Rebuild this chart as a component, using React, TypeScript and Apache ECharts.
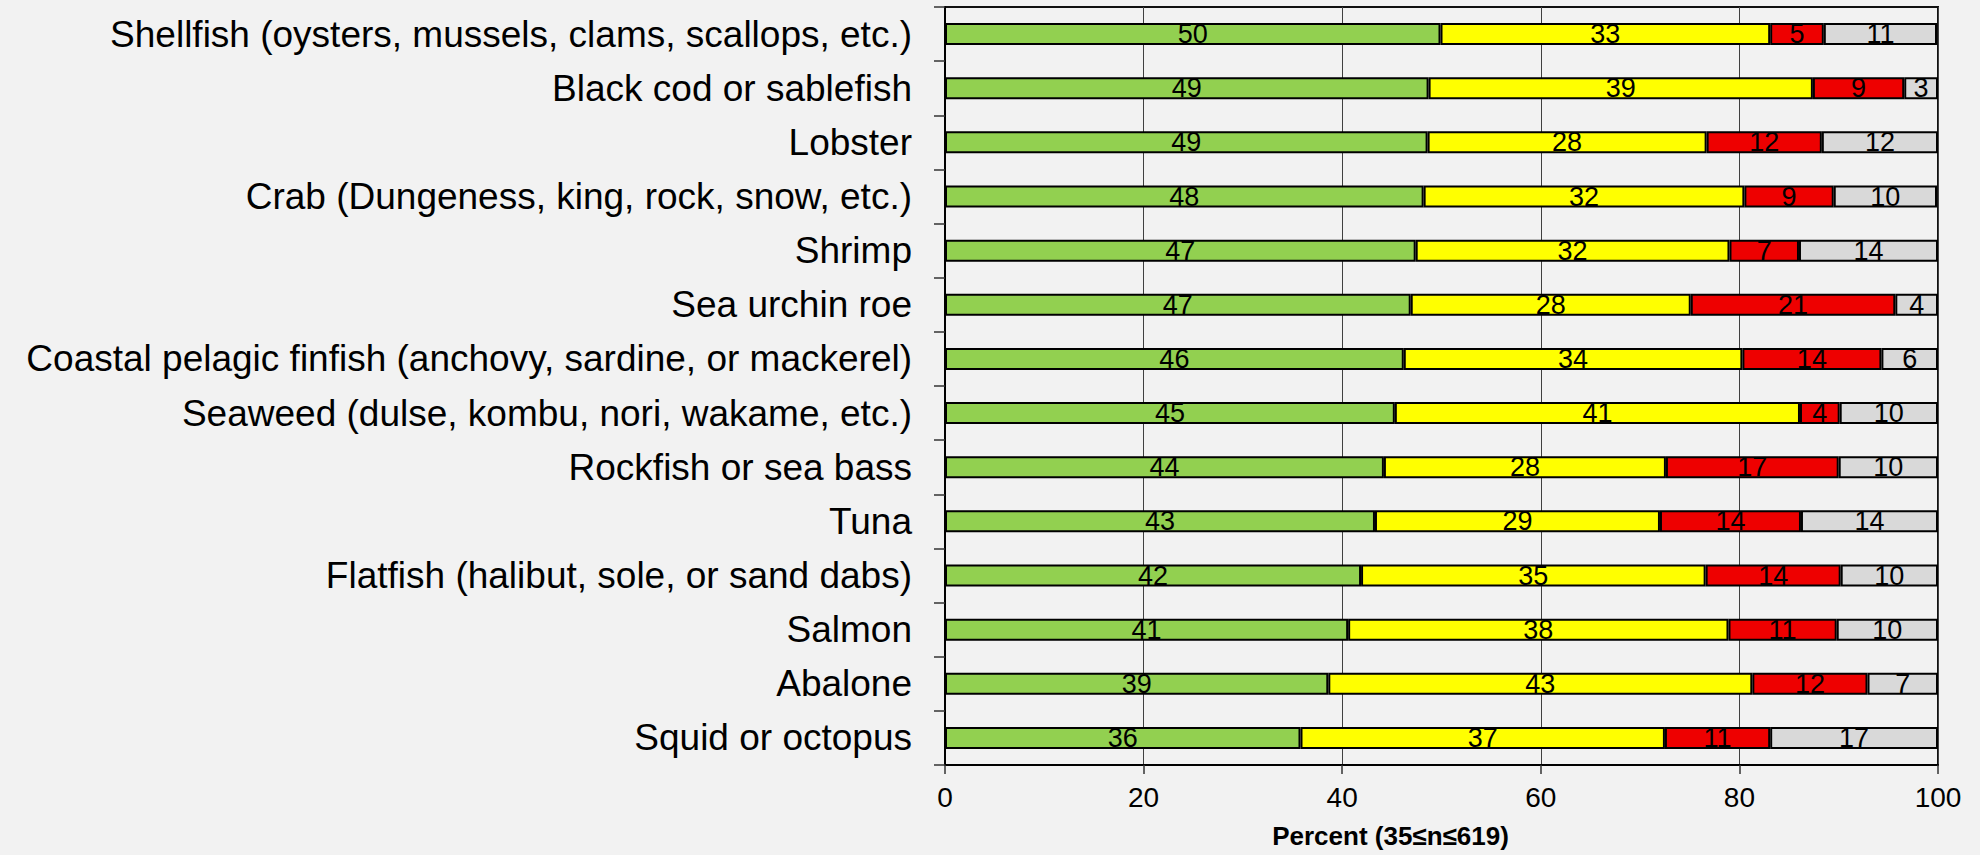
import React, { useEffect, useRef } from "react";
import * as echarts from "echarts";

const categories = [
  "Shellfish (oysters, mussels, clams, scallops, etc.)",
  "Black cod or sablefish",
  "Lobster",
  "Crab (Dungeness, king, rock, snow, etc.)",
  "Shrimp",
  "Sea urchin roe",
  "Coastal pelagic finfish (anchovy, sardine, or mackerel)",
  "Seaweed (dulse, kombu, nori, wakame, etc.)",
  "Rockfish or sea bass",
  "Tuna",
  "Flatfish (halibut, sole, or sand dabs)",
  "Salmon",
  "Abalone",
  "Squid or octopus",
];

const greenValues = [49.9, 48.7, 48.6, 48.2, 47.4, 46.9, 46.2, 45.3, 44.2, 43.3, 41.9, 40.6, 38.6, 35.8];
const yellowValues = [33.2, 38.7, 28.1, 32.3, 31.6, 28.2, 34.1, 40.8, 28.4, 28.7, 34.7, 38.3, 42.7, 36.7];
const redValues = [5.4, 9.2, 11.6, 9.0, 7.0, 20.6, 14.0, 4.0, 17.4, 14.2, 13.6, 10.9, 11.6, 10.6];
const greyValues = [11.4, 3.4, 11.7, 10.4, 14.0, 4.3, 5.7, 9.9, 10.0, 13.8, 9.8, 10.2, 7.1, 16.9];

const xTicks = [0, 20, 40, 60, 80, 100];
const axisTitle = "Percent (35≤n≤619)";

const FONT = "'Liberation Sans', Arial, sans-serif";

export default function App() {
  const ref = useRef<HTMLDivElement>(null);

  useEffect(() => {
    if (!ref.current) return;
    const chart = echarts.init(ref.current, undefined, { renderer: "svg" });

    const mkSeries = (name: string, data: number[], color: string) => ({
      name,
      type: "bar",
      stack: "total",
      data,
      barWidth: 22,
      itemStyle: { color, borderColor: "#000", borderWidth: 2 },
      label: {
        show: true,
        position: "inside",
        formatter: (p: any) => String(Math.round(p.value)),
        color: "#000",
        fontSize: 27,
        fontFamily: FONT,
      },
      emphasis: { disabled: true },
    });

    chart.setOption({
      animation: false,
      backgroundColor: "#F2F2F2",
      grid: {
        left: 945,
        right: 42,
        top: 7,
        bottom: 90,
        show: true,
        borderColor: "#111",
        borderWidth: 2,
        backgroundColor: "transparent",
      },
      xAxis: {
        type: "value",
        min: xTicks[0],
        max: xTicks[xTicks.length - 1],
        interval: 20,
        name: axisTitle,
        nameLocation: "middle",
        nameGap: 58,
        nameTextStyle: {
          fontSize: 26,
          fontWeight: "bold",
          color: "#000",
          fontFamily: FONT,
          padding: [0, 102, 0, 0],
        },
        axisLine: { show: true, lineStyle: { color: "#000", width: 2 } },
        axisTick: { show: true, length: 9, lineStyle: { color: "#333", width: 1.5 } },
        axisLabel: { fontSize: 28, color: "#000", fontFamily: FONT, margin: 18 },
        splitLine: { show: true, lineStyle: { color: "#404040", width: 1 } },
      },
      yAxis: {
        type: "category",
        data: categories,
        inverse: true,
        axisLine: { show: true, lineStyle: { color: "#000", width: 2 } },
        axisTick: { show: true, length: 11, lineStyle: { color: "#333", width: 1.5 } },
        axisLabel: { fontSize: 37, color: "#000", fontFamily: FONT, margin: 33 },
        splitLine: { show: false },
      },
      series: [
        mkSeries("Green", greenValues, "#92D050"),
        mkSeries("Yellow", yellowValues, "#FFFF00"),
        mkSeries("Red", redValues, "#EE0000"),
        mkSeries("Grey", greyValues, "#D9D9D9"),
      ],
    });

    return () => chart.dispose();
  }, []);

  return (
    <div
      ref={ref}
      style={{ position: "fixed", left: 0, top: 0, width: 1980, height: 855 }}
    />
  );
}
